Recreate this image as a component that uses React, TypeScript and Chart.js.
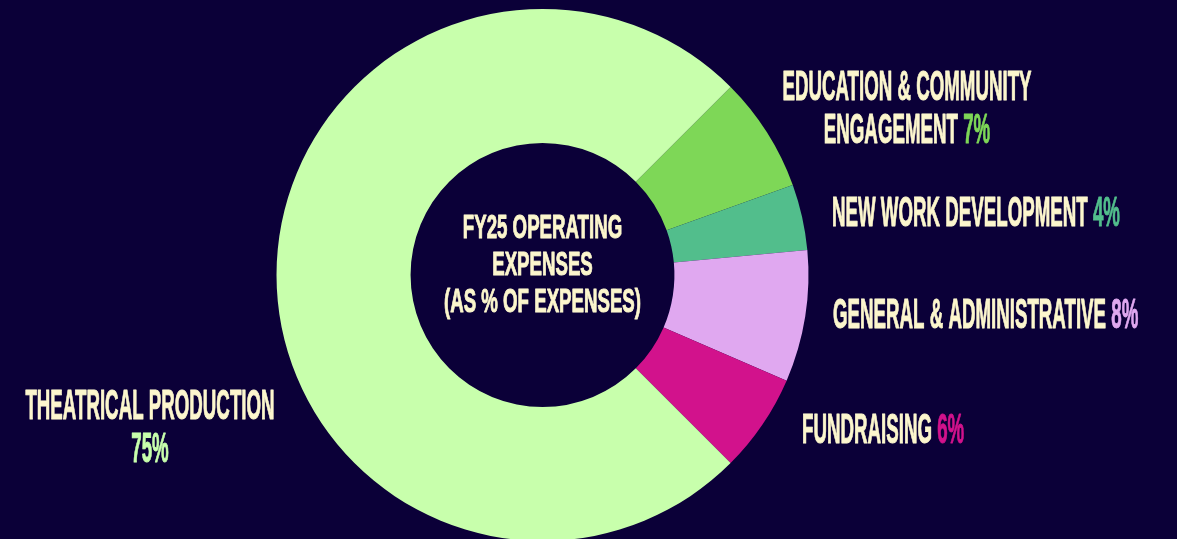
import React, { useEffect, useRef } from "react";
import { Chart, registerables } from "chart.js";

Chart.register(...registerables);

// ---- Data ----
const categories = [
  "EDUCATION & COMMUNITY ENGAGEMENT",
  "NEW WORK DEVELOPMENT",
  "GENERAL & ADMINISTRATIVE",
  "FUNDRAISING",
  "THEATRICAL PRODUCTION",
];
const values = [7, 4, 8, 6, 75];
const sliceColors = ["#7ed757", "#52be8c", "#e0a8f0", "#d2128c", "#c8ffac"];
const centerTitle = ["FY25 OPERATING", "EXPENSES", "(AS % OF EXPENSES)"];

// ---- Styling / layout (not data) ----
const BG = "#0b0038";
const TEXT = "#fcf6cd";
const FONT_FAMILY = "'Liberation Sans', Arial, sans-serif";
const LABEL_SIZE = 42;
const CENTER_SIZE = 33;
// horizontal condensing: reference string and target width in px
const LABEL_REF = { text: "NEW WORK DEVELOPMENT 4%", width: 288 };
const CENTER_REF = { text: "(AS % OF EXPENSES)", width: 197 };

const LABEL_LAYOUT = [
  { lines: ["EDUCATION & COMMUNITY", "ENGAGEMENT"], x: 907, y: [100, 143], align: "center" },
  { lines: ["NEW WORK DEVELOPMENT"], x: 832, y: [226], align: "left" },
  { lines: ["GENERAL & ADMINISTRATIVE"], x: 833, y: [328], align: "left" },
  { lines: ["FUNDRAISING"], x: 802, y: [443], align: "left" },
  { lines: ["THEATRICAL PRODUCTION", ""], x: 150, y: [419, 462], align: "center" },
];
const CENTER_BASELINES = [238, 275, 312];

function drawText(ctx: CanvasRenderingContext2D, s: string, x: number, color: string) {
  ctx.fillStyle = color;
  ctx.strokeStyle = color;
  ctx.lineWidth = 1;
  ctx.lineJoin = "round";
  ctx.fillText(s, x, 0);
  ctx.strokeText(s, x, 0);
}

const labelPlugin = {
  id: "outerLabels",
  afterDraw(chart: any) {
    const ctx: CanvasRenderingContext2D = chart.ctx;
    ctx.save();
    ctx.textBaseline = "alphabetic";
    ctx.textAlign = "left";

    const meta = chart.getDatasetMeta(0);
    const arc0 = meta.data[0];
    const cx = arc0 ? arc0.x : chart.width / 2;

    // Center title
    ctx.font = `bold ${CENTER_SIZE}px ${FONT_FAMILY}`;
    const cScale = CENTER_REF.width / ctx.measureText(CENTER_REF.text).width;
    centerTitle.forEach((line, i) => {
      const w = ctx.measureText(line).width * cScale;
      ctx.save();
      ctx.translate(cx - w / 2, CENTER_BASELINES[i]);
      ctx.scale(cScale, 1);
      drawText(ctx, line, 0, TEXT);
      ctx.restore();
    });

    // Outer labels
    ctx.font = `bold ${LABEL_SIZE}px ${FONT_FAMILY}`;
    const lScale = LABEL_REF.width / ctx.measureText(LABEL_REF.text).width;
    LABEL_LAYOUT.forEach((lay, idx) => {
      const pct = `${values[idx]}%`;
      lay.lines.forEach((line, li) => {
        const isLast = li === lay.lines.length - 1;
        const main = isLast && line ? line + " " : line;
        const mainW = ctx.measureText(main).width;
        const pctW = isLast ? ctx.measureText(pct).width : 0;
        const total = (mainW + pctW) * lScale;
        const startX = lay.align === "center" ? lay.x - total / 2 : lay.x;
        ctx.save();
        ctx.translate(startX, lay.y[li]);
        ctx.scale(lScale, 1);
        if (main) drawText(ctx, main, 0, TEXT);
        if (isLast) drawText(ctx, pct, mainW, sliceColors[idx]);
        ctx.restore();
      });
    });
    ctx.restore();
  },
};

export default function App() {
  const canvasRef = useRef<HTMLCanvasElement | null>(null);

  useEffect(() => {
    document.body.style.margin = "0";
    document.body.style.background = BG;
    const canvas = canvasRef.current;
    if (!canvas) return;
    const chart = new Chart(canvas, {
      type: "doughnut",
      data: {
        labels: categories,
        datasets: [
          {
            data: values,
            backgroundColor: sliceColors,
            borderWidth: 0,
            hoverOffset: 0,
          },
        ],
      },
      options: {
        animation: false,
        responsive: true,
        maintainAspectRatio: false,
        rotation: 45,
        cutout: "49.6%",
        layout: { padding: { top: 9, bottom: 4, left: 0, right: 92 } },
        plugins: {
          legend: { display: false },
          tooltip: { enabled: false },
        },
      },
      plugins: [labelPlugin],
    });
    return () => chart.destroy();
  }, []);

  return (
    <div style={{ width: 1177, height: 539, overflow: "hidden", background: BG, position: "relative" }}>
      <div style={{ width: 1177, height: 545, position: "absolute", left: 0, top: 0 }}>
        <canvas ref={canvasRef} />
      </div>
    </div>
  );
}
